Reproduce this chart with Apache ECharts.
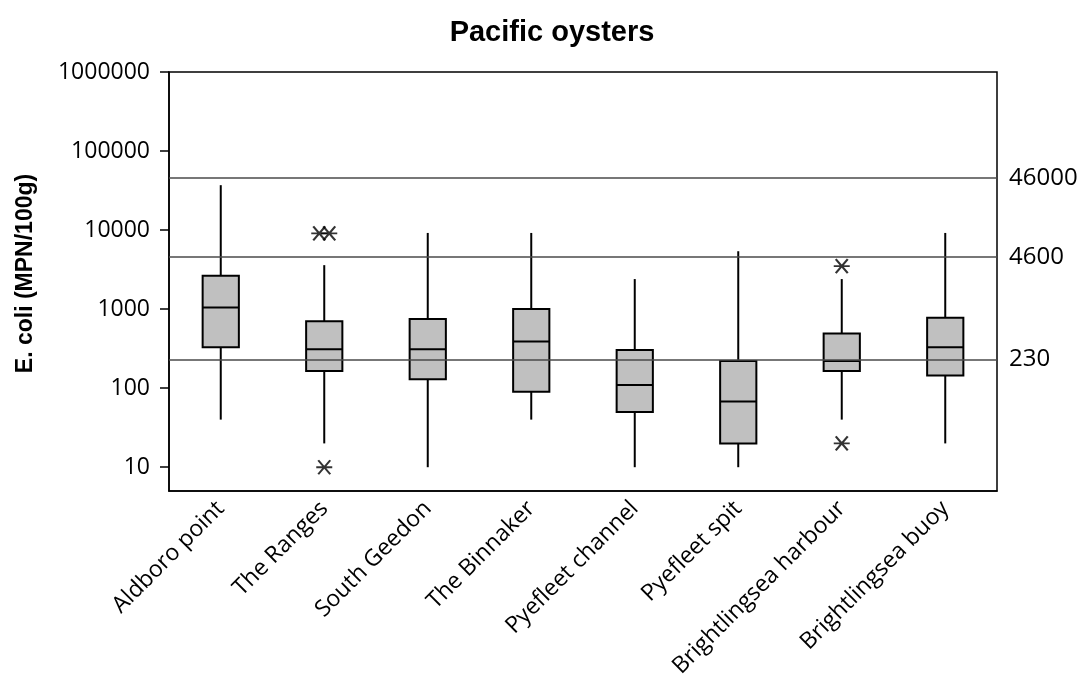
<!DOCTYPE html>
<html>
<head>
<meta charset="utf-8">
<title>Pacific oysters</title>
<script src="https://cdn.jsdelivr.net/npm/echarts@6/dist/echarts.min.js"></script>
<style>
  html, body { margin: 0; padding: 0; background: #fff; }
  #chart { width: 1083px; height: 690px; }
</style>
</head>
<body>
<div id="chart"></div>
<script>
// Sampling sites
const categories = ['Aldboro point', 'The Ranges', 'South Geedon', 'The Binnaker',
  'Pyefleet channel', 'Pyefleet spit', 'Brightlingsea harbour', 'Brightlingsea buoy'];

// Five-number summaries, E. coli MPN/100g
const whiskerLow  = [40, 20, 10, 40, 10, 10, 40, 20];
const quartile1   = [330, 165, 130, 90, 50, 20, 165, 145];
const median      = [1050, 310, 310, 390, 110, 68, 220, 330];
const quartile3   = [2640, 700, 750, 1000, 305, 220, 490, 780];
const whiskerHigh = [37000, 3600, 9200, 9200, 2400, 5400, 2400, 9200];

// Outlying results (site index, value)
const outlierSite  = [1, 1, 1, 6, 6];
const outlierValue = [9100, 9100, 10, 3500, 20];

// Classification limits drawn across the plot
const limitValues = [46000, 4600, 230];

// Log axis tick values
const yTicks = [10, 100, 1000, 10000, 100000, 1000000];

const boxData = categories.map((c, i) =>
  [i, whiskerLow[i], quartile1[i], median[i], quartile3[i], whiskerHigh[i]]);

// Tied outliers at the same site sit side by side
const counts = {};
outlierSite.forEach((s, k) => {
  const key = s + '_' + outlierValue[k];
  counts[key] = (counts[key] || 0) + 1;
});
const placed = {};
const outlierItems = outlierSite.map((s, k) => {
  const key = s + '_' + outlierValue[k];
  const n = counts[key];
  const j = placed[key] = (placed[key] || 0) + 1;
  const off = n > 1 ? (j - (n + 1) / 2) * 10 : 0;
  return { value: [s, outlierValue[k]], symbolOffset: [off, 0] };
});

const labelFont = 'Open Sans';
const titleFont = 'Liberation Sans';

function renderBox(params, api) {
  const x = api.value(0);
  const pLow = api.coord([x, api.value(1)]);
  const pQ1 = api.coord([x, api.value(2)]);
  const pMed = api.coord([x, api.value(3)]);
  const pQ3 = api.coord([x, api.value(4)]);
  const pHigh = api.coord([x, api.value(5)]);
  const w = api.size([1, 0])[0] * 0.35;
  const cx = pMed[0];
  const lineStyle = { stroke: '#000', lineWidth: 2 };
  return {
    type: 'group',
    children: [
      { type: 'line', shape: { x1: cx, y1: pLow[1], x2: cx, y2: pQ1[1] }, style: lineStyle },
      { type: 'line', shape: { x1: cx, y1: pQ3[1], x2: cx, y2: pHigh[1] }, style: lineStyle },
      { type: 'rect', shape: { x: cx - w / 2, y: pQ3[1], width: w, height: pQ1[1] - pQ3[1] },
        style: { fill: '#c0c0c0', stroke: '#000', lineWidth: 2 } },
      { type: 'line', shape: { x1: cx - w / 2, y1: pMed[1], x2: cx + w / 2, y2: pMed[1] },
        style: { stroke: '#000', lineWidth: 2 } }
    ]
  };
}

const chart = echarts.init(document.getElementById('chart'), null, { renderer: 'canvas' });
chart.setOption({
  animation: false,
  backgroundColor: '#fff',
  title: {
    text: 'Pacific oysters',
    left: 547,
    textAlign: 'center',
    top: 13,
    textStyle: { fontFamily: titleFont, fontWeight: 'bold', fontSize: 29, color: '#000' }
  },
  grid: {
    left: 169, right: 86, top: 72, bottom: 199,
    show: true, borderColor: '#000', borderWidth: 1.5, backgroundColor: 'transparent'
  },
  xAxis: {
    type: 'category',
    data: categories,
    boundaryGap: true,
    axisLine: { lineStyle: { color: '#000', width: 1.5 } },
    axisTick: { alignWithLabel: true, length: 9, lineStyle: { color: '#000', width: 1.5 } },
    axisLabel: {
      rotate: 45, interval: 0, margin: 14, color: '#000',
      fontFamily: labelFont, fontSize: 23
    },
    splitLine: { show: false }
  },
  yAxis: {
    type: 'log',
    logBase: 10,
    min: 5,
    max: 1000000,
    name: 'E. coli (MPN/100g)',
    nameLocation: 'middle',
    nameGap: 132,
    nameTextStyle: {
      fontFamily: titleFont, fontWeight: 'bold', fontSize: 23, color: '#000',
      padding: [0, 0, 0, 16]
    },
    axisLine: { show: true, lineStyle: { color: '#000', width: 1.5 } },
    axisTick: { show: true, length: 9, customValues: yTicks, lineStyle: { color: '#000', width: 1.5 } },
    axisLabel: {
      customValues: yTicks, margin: 19, color: '#000',
      fontFamily: labelFont, fontSize: 23,
      formatter: v => String(Math.round(v))
    },
    splitLine: { show: false },
    minorTick: { show: false }
  },
  series: [
    {
      type: 'custom',
      name: 'E. coli',
      renderItem: renderBox,
      encode: { x: 0, y: [1, 2, 3, 4, 5] },
      data: boxData,
      z: 3,
      markLine: {
        silent: true,
        symbol: ['none', 'none'],
        lineStyle: { color: '#4a4a4a', width: 1.5, type: 'solid' },
        label: {
          position: 'end', distance: 12, color: '#000',
          fontFamily: labelFont, fontSize: 24,
          formatter: p => String(p.value)
        },
        data: limitValues.map(v => ({ yAxis: v }))
      }
    },
    {
      type: 'scatter',
      name: 'Outliers',
      data: outlierItems,
      symbol: 'path://M0,7L16,7M2,0L14,14M14,0L2,14',
      symbolSize: [16, 14],
      itemStyle: { color: 'transparent', borderColor: '#000', borderWidth: 2 },
      z: 4
    }
  ]
});
</script>
</body>
</html>
